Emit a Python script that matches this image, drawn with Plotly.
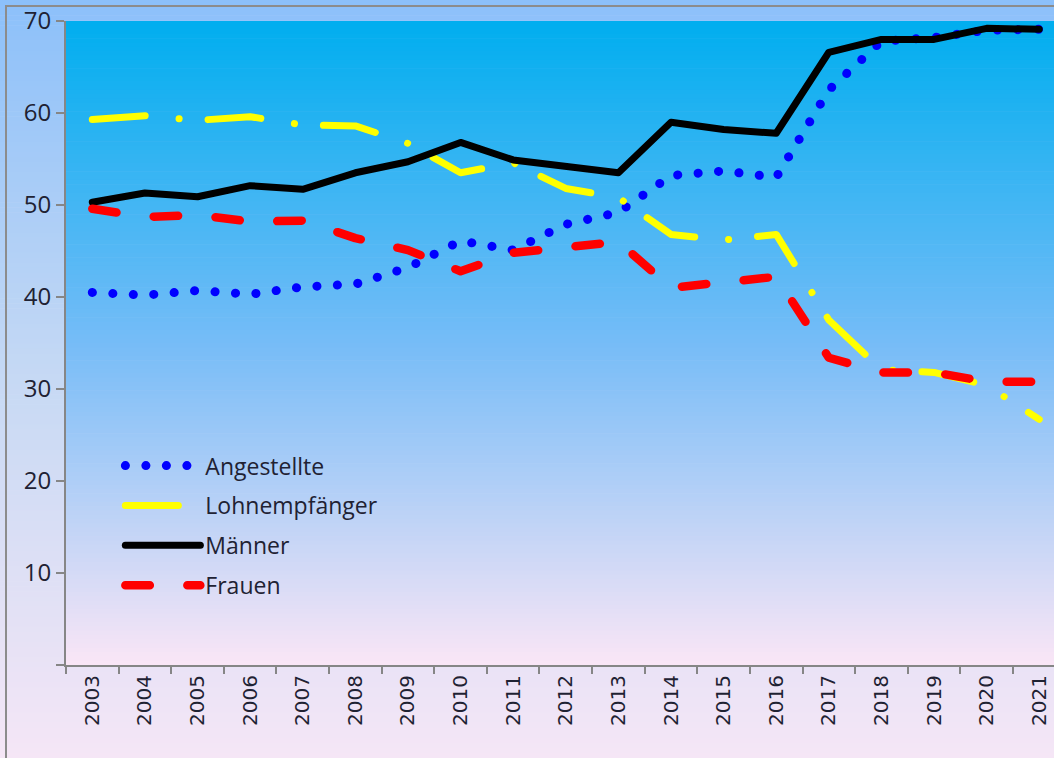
import plotly.graph_objects as go

years = [str(y) for y in range(2003, 2022)]
angestellte = [40.5, 40.2, 40.7, 40.3, 41.1, 41.4, 43.2, 46.1, 45.1, 47.9, 49.2,
               53.2, 53.7, 53.0, 62.5, 67.8, 68.2, 69.0, 69.1]
lohnempfaenger = [59.3, 59.7, 59.2, 59.6, 58.7, 58.6, 56.7, 53.5, 54.6, 51.8, 50.8,
                  46.8, 46.2, 46.8, 37.5, 32.1, 31.8, 30.4, 26.7]
maenner = [50.3, 51.3, 50.9, 52.1, 51.7, 53.5, 54.7, 56.8, 54.9, 54.2, 53.5,
           59.0, 58.2, 57.8, 66.6, 68.0, 68.0, 69.2, 69.1]
frauen = [49.6, 48.7, 48.9, 48.2, 48.3, 46.4, 45.1, 42.8, 44.8, 45.5, 46.0,
          41.0, 41.6, 42.2, 33.4, 31.8, 31.8, 30.8, 30.8]
y_ticks = [0, 10, 20, 30, 40, 50, 60, 70]
y_ticktext = ["", "10", "20", "30", "40", "50", "60", "70"]

W, H = 1054, 758
L, T, B = 66, 21, 93
PW, PH = W - L, H - T - B

def px_x(x):
    return (x - L) / PW

def px_y(y):
    return (H - B - y) / PH

def lerp_stops(stops, t):
    for (t0, c0), (t1, c1) in zip(stops[:-1], stops[1:]):
        if t0 <= t <= t1:
            f = (t - t0) / (t1 - t0) if t1 > t0 else 0
            c = [round(a + (b - a) * f) for a, b in zip(c0, c1)]
            return "rgb(%d,%d,%d)" % tuple(c)
    c = stops[-1][1]
    return "rgb(%d,%d,%d)" % tuple(c)

shapes = []
# outer (chart area) gradient
outer_stops = [(0.0, (140, 192, 250)), (0.5, (198, 217, 244)), (1.0, (245, 230, 246))]
N = 150
for i in range(N):
    y0p = i * H / N
    y1p = (i + 1) * H / N + 0.6
    shapes.append(dict(type="rect", xref="paper", yref="paper", layer="below",
                       x0=px_x(-2), x1=px_x(W + 2), y0=px_y(y1p), y1=px_y(y0p),
                       fillcolor=lerp_stops(outer_stops, (i + 0.5) / N), line=dict(width=0)))
# inner (plot area) gradient
inner_stops = [(0.0, (0, 174, 239)), (0.5, (118, 188, 247)), (1.0, (250, 230, 246))]
for i in range(N):
    y0p = T + i * PH / N
    y1p = min(T + (i + 1) * PH / N + 0.6, T + PH)
    shapes.append(dict(type="rect", xref="paper", yref="paper", layer="below",
                       x0=0, x1=1, y0=px_y(y1p), y1=px_y(y0p),
                       fillcolor=lerp_stops(inner_stops, (i + 0.5) / N), line=dict(width=0)))
# frame border
shapes.append(dict(type="rect", xref="paper", yref="paper", layer="below",
                   x0=px_x(6), x1=px_x(W + 20), y0=px_y(H + 20), y1=px_y(6),
                   fillcolor="rgba(0,0,0,0)", line=dict(color="#8C8C8C", width=2)))

fig = go.Figure()
fig.add_trace(go.Scatter(x=years, y=angestellte, name="Angestellte", mode="lines",
                         legendgroup="a",
                         line=dict(color="#0000FF", width=9, dash="0.1px,20.4px")))
fig.add_trace(go.Scatter(x=years, y=lohnempfaenger, name="Lohnempfänger", mode="lines",
                         legendgroup="b",
                         line=dict(color="#FFFF00", width=7, dash="53px,34px,0.1px,29px")))
fig.add_trace(go.Scatter(x=years, y=maenner, name="Männer", mode="lines",
                         legendgroup="c",
                         line=dict(color="#000000", width=7)))
fig.add_trace(go.Scatter(x=years, y=frauen, name="Frauen", mode="lines",
                         legendgroup="d",
                         line=dict(color="#FF0000", width=8.5, dash="24.5px,37.5px")))

fig.update_layout(
    width=W, height=H,
    margin=dict(l=L, r=0, t=T, b=B, pad=0, autoexpand=False),
    paper_bgcolor="#E8E6F6",
    plot_bgcolor="rgba(0,0,0,0)",
    shapes=shapes,
    showlegend=True,
    legend=dict(x=0.055, y=0.343, xanchor="left", yanchor="top",
                bgcolor="rgba(0,0,0,0)", borderwidth=0,
                font=dict(family="Open Sans", size=23, color="#1F2233"),
                traceorder="grouped", tracegroupgap=7, itemwidth=75),
    xaxis=dict(type="category", range=[-0.5, 18.28], tickson="boundaries",
               ticks="outside", ticklen=7, tickwidth=2, tickcolor="#868686",
               showline=True, linecolor="#868686", linewidth=2,
               showgrid=False, zeroline=False, tickangle=-90,
               tickfont=dict(family="DejaVu Sans", size=20, color="#1F2233")),
    yaxis=dict(range=[0, 70], tickvals=y_ticks, ticktext=y_ticktext,
               ticks="outside", ticklen=8, tickwidth=2, tickcolor="#868686",
               showline=True, linecolor="#868686", linewidth=2,
               showgrid=False, zeroline=False,
               tickfont=dict(family="Open Sans", size=24, color="#1F2233")),
)

post = """
document.body.style.margin = '0';
document.body.style.padding = '0';
document.documentElement.style.overflow = 'hidden';
var gd = document.getElementById('{plot_id}');
function rc(){
  gd.querySelectorAll('path.js-line').forEach(function(p){
    p.style.strokeLinecap = 'round'; p.style.strokeLinejoin = 'round';
  });
}
rc(); setTimeout(rc, 50); setTimeout(rc, 300);
if (gd.on) { gd.on('plotly_afterplot', rc); }
"""
fig.write_html("out.html", post_script=post, config={"displayModeBar": False})
